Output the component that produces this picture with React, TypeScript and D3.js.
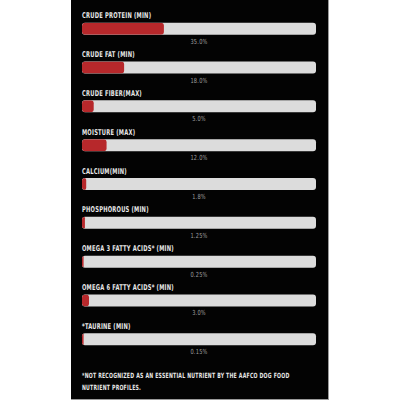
import React from "react";
import * as d3 from "d3";

const labels = [
  "CRUDE PROTEIN (MIN)",
  "CRUDE FAT (MIN)",
  "CRUDE FIBER(MAX)",
  "MOISTURE (MAX)",
  "CALCIUM(MIN)",
  "PHOSPHOROUS (MIN)",
  "OMEGA 3 FATTY ACIDS* (MIN)",
  "OMEGA 6 FATTY ACIDS* (MIN)",
  "*TAURINE (MIN)",
];
const valueLabels = ["35.0%", "18.0%", "5.0%", "12.0%", "1.8%", "1.25%", "0.25%", "3.0%", "0.15%"];
const values = [35, 18, 5, 10.5, 1.8, 1.25, 0.25, 3, 0.15];
const footnote = [
  "*NOT RECOGNIZED AS AN ESSENTIAL NUTRIENT BY THE AAFCO DOG FOOD",
  "NUTRIENT PROFILES.",
];

export default function App() {
  const W = 400, H = 400;
  const panelX = 71, panelW = 257;
  const barX = 82, barW = 234, barH = 12;
  const x = d3.scaleLinear().domain([0, 100]).range([0, barW]);
  const y = d3.scaleLinear().domain([0, 8]).range([22.7, 333.3]);
  const font = "'DejaVu Sans Condensed', 'DejaVu Sans', sans-serif";
  return (
    <svg width={W} height={H} style={{ position: "absolute", left: 0, top: 0, display: "block" }}>
      <rect x={0} y={0} width={W} height={H} fill="#fff" />
      <rect x={panelX} y={0} width={panelW} height={H} fill="#030303" />
      <line x1={panelX + panelW + 0.5} x2={panelX + panelW + 0.5} y1={0} y2={399.5} stroke="#9a9a9a" strokeWidth={1} />
      <line x1={panelX} x2={panelX + panelW + 1} y1={399.5} y2={399.5} stroke="#9a9a9a" strokeWidth={1} />
      <defs>
        {labels.map((_, i) => (
          <clipPath id={`clip${i}`} key={i}>
            <rect x={barX} y={y(i)} width={barW} height={barH} rx={3} />
          </clipPath>
        ))}
      </defs>
      {labels.map((lab, i) => {
        const top = y(i);
        const fw = Math.max(1.6, x(values[i]));
        return (
          <g key={i}>
            <text
              transform={`translate(${barX},${top - 4.4}) scale(0.72,1)`}
              fontFamily={font}
              fontWeight="bold"
              fontSize={8}
              fill="#e8e8e8"
              letterSpacing={0.3}
            >
              {lab}
            </text>
            <rect x={barX} y={top} width={barW} height={barH} rx={3} fill="#dcdcdc" />
            <rect
              x={barX}
              y={top}
              width={fw}
              height={barH}
              rx={Math.min(3, fw / 2)}
              fill="#b7282b"
              clipPath={`url(#clip${i})`}
            />
            <text
              transform={`translate(${barX + barW / 2},${top + barH + 9}) scale(0.8,1)`}
              textAnchor="middle"
              fontFamily={font}
              fontSize={7}
              fill="#a0a0a0"
              letterSpacing={0.3}
            >
              {valueLabels[i]}
            </text>
          </g>
        );
      })}
      {footnote.map((t, i) => (
        <text
          key={i}
          transform={`translate(${barX},${377.7 + i * 12.4}) scale(0.72,1)`}
          fontFamily={font}
          fontWeight="bold"
          fontSize={7.2}
          fill="#e8e8e8"
          letterSpacing={0.3}
        >
          {t}
        </text>
      ))}
    </svg>
  );
}
